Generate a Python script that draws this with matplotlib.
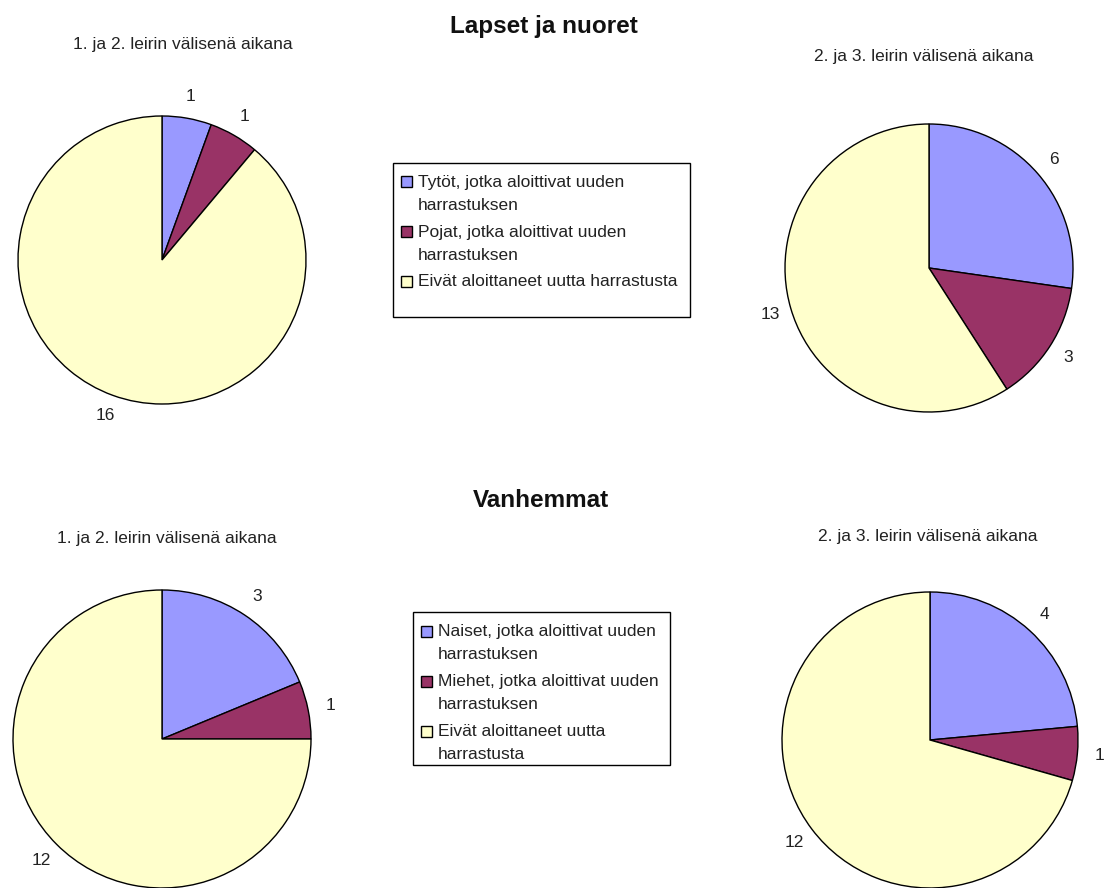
import matplotlib.pyplot as plt
from matplotlib.patches import Rectangle

plt.rcParams['font.family'] = ['Liberation Sans', 'DejaVu Sans']

# data
kids_12 = [1, 1, 16]
kids_23 = [6, 3, 13]
parents_12 = [3, 1, 12]
parents_23 = [4, 1, 12]

kids_labels = ["Tytöt, jotka aloittivat uuden\nharrastuksen",
               "Pojat, jotka aloittivat uuden\nharrastuksen",
               "Eivät aloittaneet uutta harrastusta"]
parent_labels = ["Naiset, jotka aloittivat uuden\nharrastuksen",
                 "Miehet, jotka aloittivat uuden\nharrastuksen",
                 "Eivät aloittaneet uutta\nharrastusta"]

sub_12 = "1. ja 2. leirin välisenä aikana"
sub_23 = "2. ja 3. leirin välisenä aikana"

colors = ['#9999FF', '#993366', '#FFFFCC']
txt = '#222222'

W, H = 1104, 888
fig = plt.figure(figsize=(W / 100, H / 100), dpi=100)
fig.patch.set_facecolor('white')


def fx(x):
    return x / W


def fy(y):
    return 1 - y / H


def draw_pie(vals, cx, cy, r):
    lim = 1.5
    half = r * lim
    ax = fig.add_axes([fx(cx - half), fy(cy + half), 2 * half / W, 2 * half / H])
    wedges, texts = ax.pie(vals, colors=colors, startangle=90, counterclock=False,
                           labels=[str(v) for v in vals], labeldistance=1.15,
                           wedgeprops=dict(edgecolor='black', linewidth=1),
                           textprops=dict(fontsize=12.5, color=txt))
    for t in texts:
        t.set_ha('center')
        t.set_va('center')
    ax.set_xlim(-lim, lim)
    ax.set_ylim(-lim, lim)
    ax.axis('off')
    return ax


draw_pie(kids_12, 162, 260, 144)
draw_pie(kids_23, 929, 268, 144)
draw_pie(parents_12, 162, 739, 149)
draw_pie(parents_23, 930, 740, 148)

# titles
fig.text(fx(544), fy(27), "Lapset ja nuoret", ha='center', va='center',
         fontsize=17.5, fontweight='bold', color='#111111')
fig.text(fx(541), fy(500), "Vanhemmat", ha='center', va='center',
         fontsize=17.5, fontweight='bold', color='#111111')
fig.text(fx(183), fy(45), sub_12, ha='center', va='center', fontsize=12.5, color=txt)
fig.text(fx(924), fy(56), sub_23, ha='center', va='center', fontsize=12.5, color=txt)
fig.text(fx(167), fy(538), sub_12, ha='center', va='center', fontsize=12.5, color=txt)
fig.text(fx(928), fy(537), sub_23, ha='center', va='center', fontsize=12.5, color=txt)


# Excel style legend: square key lined up with the first line of each label
def draw_legend(labels, box, x_key, first_y, line_h=23, entry_gap=27):
    x0, y0, x1, y1 = box
    fig.patches.append(Rectangle((fx(x0), fy(y1)), (x1 - x0) / W, (y1 - y0) / H,
                                 transform=fig.transFigure, facecolor='white',
                                 edgecolor='black', linewidth=1, zorder=0))
    y = first_y
    for c, lab in zip(colors, labels):
        k = 11
        fig.patches.append(Rectangle((fx(x_key), fy(y + k / 2)), k / W, k / H,
                                     transform=fig.transFigure, facecolor=c,
                                     edgecolor='black', linewidth=1))
        for line in lab.split('\n'):
            fig.text(fx(x_key + k + 6), fy(y), line, ha='left', va='center',
                     fontsize=12.5, color=txt)
            y += line_h
        y += entry_gap - line_h


draw_legend(kids_labels, (393, 163, 690, 317), 401, 182)
draw_legend(parent_labels, (413, 612, 670, 765), 421, 631)

fig.savefig("out.png", dpi=100)
